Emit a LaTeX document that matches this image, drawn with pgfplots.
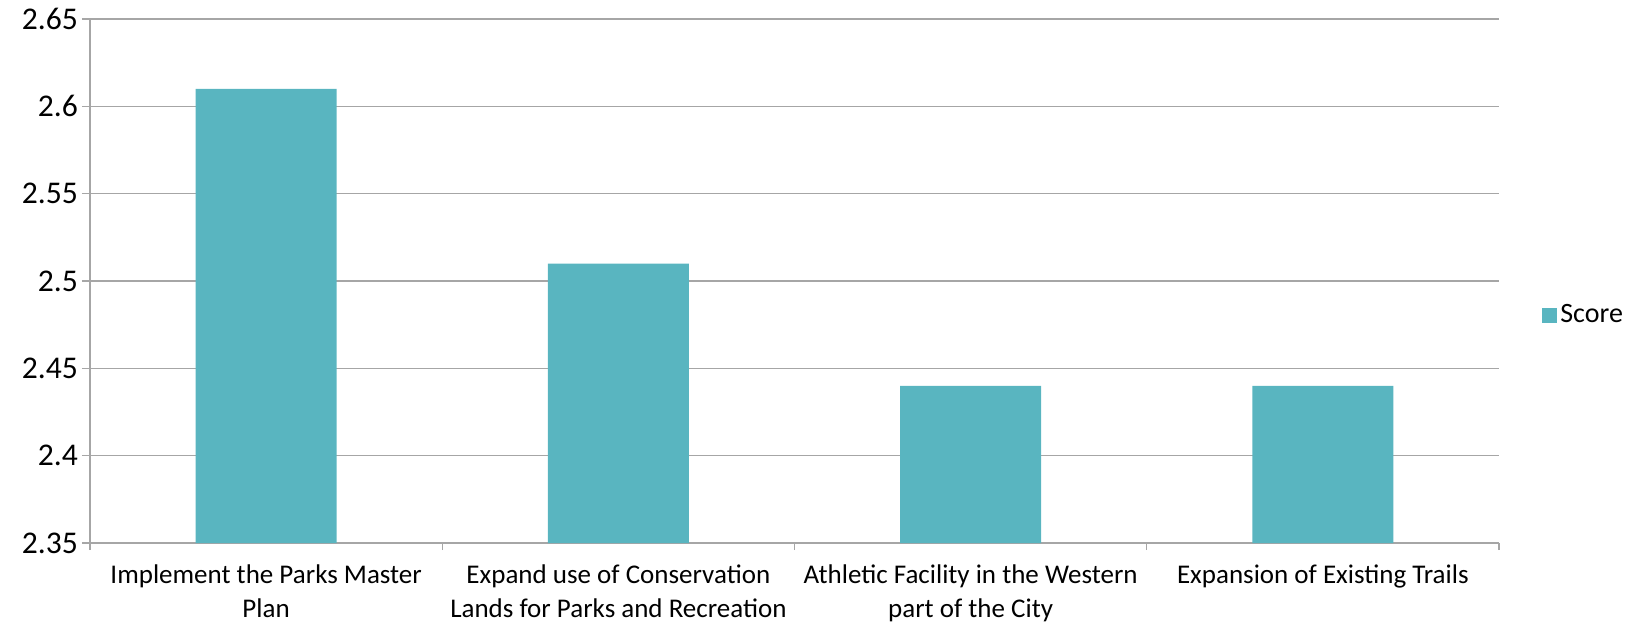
\documentclass[border=0pt]{standalone}
\usepackage{pgfplots}
\pgfplotsset{compat=1.18}
\usepackage{fontspec}
\setmainfont{Carlito}
\definecolor{barc}{RGB}{89,181,192}
\definecolor{gridc}{RGB}{166,166,166}
\newcommand{\xfont}{\fontsize{13.5}{16.9}\selectfont}
\newcommand{\yfont}{\fontsize{15.8}{18}\selectfont}
\newcommand{\lfont}{\fontsize{14}{17}\selectfont}
\begin{document}
\begin{tikzpicture}[font=\xfont]
\path[use as bounding box] (-45pt,-39.5pt) rectangle (779pt,271.5pt);
\begin{axis}[
  at={(0,0)}, anchor=south west,
  scale only axis,
  width=704.5pt, height=262pt,
  xmin=-0.5, xmax=3.5,
  ymin=2.35, ymax=2.65,
  ytick={2.35,2.4,2.45,2.5,2.55,2.6,2.65},
  yticklabels={2.35,2.4,2.45,2.5,2.55,2.6,2.65},
  xtick={0,1,2,3},
  xticklabels={{Implement the Parks Master\\Plan},{Expand use of Conservation\\Lands for Parks and Recreation},{Athletic Facility in the Western\\part of the City},{Expansion of Existing Trails}},
  xticklabel style={font=\xfont, align=center, anchor=north, yshift=-3.5pt},
  yticklabel style={font=\yfont, anchor=east, xshift=1.5pt},
  major x tick style={draw=none},
  minor xtick={-0.5,0.5,1.5,2.5,3.5},
  minor tick length=3.5pt,
  major tick length=4pt,
  tick align=outside,
  ymajorgrids,
  grid style={gridc, line width=0.65pt},
  axis lines*=left,
  axis line style={gridc, line width=0.65pt},
  tick style={gridc, line width=0.65pt},
  /pgf/number format/assume math mode=true,
  ybar, bar width=0.4,
  legend style={at={(1.0305,0.435)}, anchor=west, draw=none, fill=none, inner sep=0pt, nodes={inner sep=1.5pt}, font=\lfont},
  legend image code/.code={\fill[#1] (0pt,-3.75pt) rectangle (7.5pt,3.75pt);},
]
\addplot[fill=barc, draw=none] coordinates {(0,2.61) (1,2.51) (2,2.44) (3,2.44)};
\addlegendentry{Score}
\end{axis}
\end{tikzpicture}
\end{document}
